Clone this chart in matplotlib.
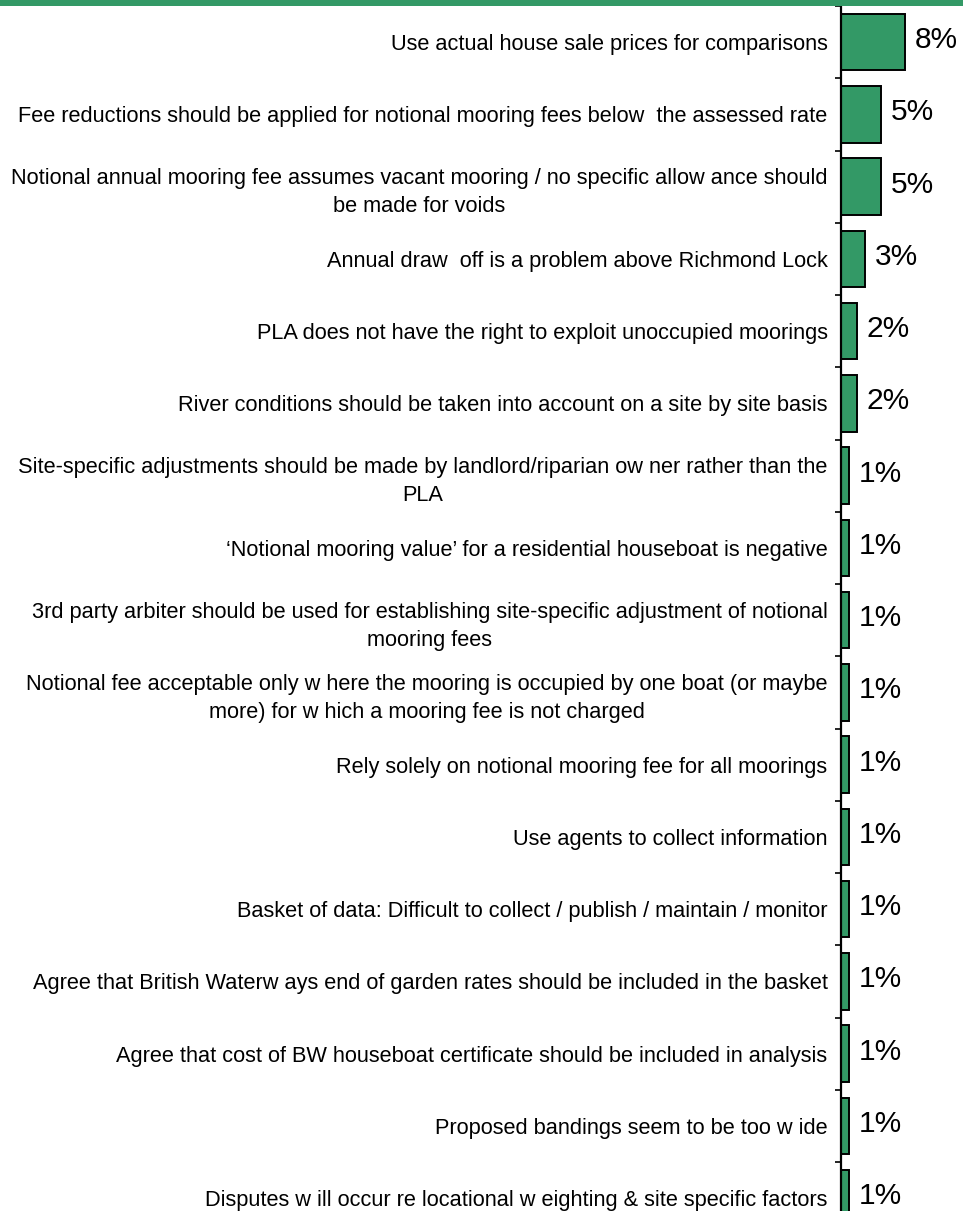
import matplotlib
matplotlib.use("Agg")
import matplotlib.pyplot as plt
import numpy as np
from matplotlib.patches import Rectangle

categories = [
    "Use actual house sale prices for comparisons",
    "Fee reductions should be applied for notional mooring fees below  the assessed rate",
    "Notional annual mooring fee assumes vacant mooring / no specific allow ance should\nbe made for voids",
    "Annual draw  off is a problem above Richmond Lock",
    "PLA does not have the right to exploit unoccupied moorings",
    "River conditions should be taken into account on a site by site basis",
    "Site-specific adjustments should be made by landlord/riparian ow ner rather than the\nPLA",
    "\u2018Notional mooring value\u2019 for a residential houseboat is negative",
    "3rd party arbiter should be used for establishing site-specific adjustment of notional\nmooring fees",
    "Notional fee acceptable only w here the mooring is occupied by one boat (or maybe\nmore) for w hich a mooring fee is not charged",
    "Rely solely on notional mooring fee for all moorings",
    "Use agents to collect information",
    "Basket of data: Difficult to collect / publish / maintain / monitor",
    "Agree that British Waterw ays end of garden rates should be included in the basket",
    "Agree that cost of BW houseboat certificate should be included in analysis",
    "Proposed bandings seem to be too w ide",
    "Disputes w ill occur re locational w eighting & site specific factors",
]
values = [8, 5, 5, 3, 2, 2, 1, 1, 1, 1, 1, 1, 1, 1, 1, 1, 1]
value_labels = [f"{v}%" for v in values]

W, H = 963, 1211
fig = plt.figure(figsize=(W / 100, H / 100), dpi=100)
plt.rcParams['font.family'] = ['Liberation Sans', 'DejaVu Sans']

green = "#339966"
# header band
fig.patches.append(Rectangle((0, 1 - 6 / H), 1, 6 / H, transform=fig.transFigure,
                             facecolor=green, edgecolor="none"))

n = len(categories)
top_px = 6
cat_px = 72.25
bottom_px = top_px + n * cat_px
left_px = 841
ax = fig.add_axes([left_px / W, 1 - bottom_px / H, 120 / W, (bottom_px - top_px) / H])

y = np.arange(n)
ax.barh(y, values, height=0.78, color=green, edgecolor="black", linewidth=1.4)
ax.set_xlim(0, 15)
ax.set_ylim(n - 0.5, -0.5)

for yi, v, lab in zip(y, values, value_labels):
    ax.annotate(lab, (v, yi), xytext=(10, 2), textcoords="offset pixels",
                ha="left", va="center", fontsize=21.5, color="black")

ax.set_yticks(y)
ax.set_yticklabels(categories, fontsize=15.7, multialignment="center", linespacing=1.45)
ax.set_yticks(np.arange(n + 1) - 0.5, minor=True)
ax.tick_params(axis="y", which="major", length=0, pad=9.7)
ax.tick_params(axis="y", which="minor", length=4, width=1.2, direction="out")
ax.set_xticks([])
for s in ["top", "right", "bottom"]:
    ax.spines[s].set_visible(False)
ax.spines["left"].set_linewidth(1.6)
ax.patch.set_alpha(0)

fig.savefig("out.png", dpi=100)
